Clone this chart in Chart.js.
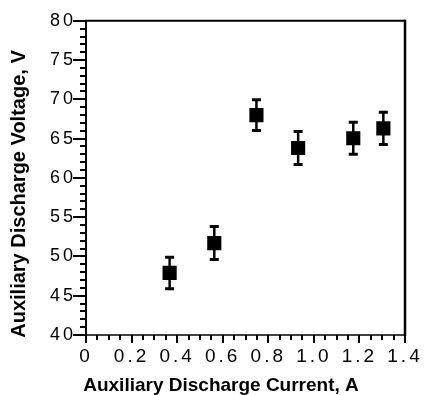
<!DOCTYPE html>
<html lang="en">
<head>
    <meta charset="UTF-8">
    <title>Auxiliary Discharge Voltage vs Current</title>
    <style>
        body {
            margin: 0;
            background-color: #fff;
        }
        canvas {
            display: block;
        }
    </style>
</head>
<body>
    <canvas id="chart" width="430" height="395"></canvas>

    <script src="https://cdn.jsdelivr.net/npm/chart.js"></script>

    <script>
      // measured points: current (A), voltage (V), +/- spread (V)
      const currents = [0.367, 0.563, 0.748, 0.931, 1.173, 1.305];
      const voltages = [47.9, 51.7, 68.0, 63.8, 65.05, 66.3];
      const voltageErrors = [2.0, 2.1, 1.95, 2.1, 2.05, 2.05];

      const xTicks = [0, 0.2, 0.4, 0.6, 0.8, 1, 1.2, 1.4];
      const yTicks = [40, 45, 50, 55, 60, 65, 70, 75, 80];

      const xTitle = 'Auxiliary Discharge Current, A';
      const yTitle = 'Auxiliary Discharge Voltage, V';

      const tickFont = '"Liberation Sans", Arial, sans-serif';

      // frame, tick marks, error bars and axis titles
      const decorations = {
          id: 'decorations',
          beforeDraw(chart) {
              chart.ctx.letterSpacing = '3px';
          },
          beforeDatasetsDraw(chart) {
              const { ctx, chartArea: a, scales: { x, y } } = chart;
              ctx.save();
              ctx.letterSpacing = '0px';
              ctx.strokeStyle = '#000';

              // error bars
              currents.forEach((c, i) => {
                  const px = x.getPixelForValue(c);
                  const top = y.getPixelForValue(voltages[i] + voltageErrors[i]);
                  const bot = y.getPixelForValue(voltages[i] - voltageErrors[i]);
                  ctx.lineWidth = 2.5;
                  ctx.beginPath();
                  ctx.moveTo(px, top);
                  ctx.lineTo(px, bot);
                  ctx.stroke();
                  ctx.lineWidth = 3;
                  ctx.beginPath();
                  ctx.moveTo(px - 4.5, top);
                  ctx.lineTo(px + 4.5, top);
                  ctx.moveTo(px - 4.5, bot);
                  ctx.lineTo(px + 4.5, bot);
                  ctx.stroke();
              });

              // box around the plot
              ctx.lineWidth = 2;
              ctx.beginPath();
              ctx.moveTo(a.left, a.top);
              ctx.lineTo(a.right, a.top);
              ctx.moveTo(a.left, a.top - 1);
              ctx.lineTo(a.left, a.bottom + 1);
              ctx.stroke();
              ctx.lineWidth = 2.5;
              ctx.beginPath();
              ctx.moveTo(a.right, a.top - 1);
              ctx.lineTo(a.right, a.bottom + 1);
              ctx.stroke();
              ctx.lineWidth = 1.5;
              ctx.beginPath();
              ctx.moveTo(a.left, a.bottom);
              ctx.lineTo(a.right, a.bottom);
              ctx.stroke();

              // y ticks: every 1 V, longer at labelled values
              ctx.lineWidth = 2;
              ctx.beginPath();
              for (let v = 40; v <= 80; v++) {
                  const py = Math.round(y.getPixelForValue(v));
                  const len = yTicks.includes(v) ? 13 : 6;
                  ctx.moveTo(a.left - len, py);
                  ctx.lineTo(a.left, py);
              }
              ctx.stroke();

              // x ticks: every 0.05 A, longer at labelled values
              ctx.beginPath();
              for (let i = 0; i <= 28; i++) {
                  const px = Math.round(x.getPixelForValue(i / 20));
                  const len = i % 4 === 0 ? 8 : 5;
                  ctx.moveTo(px, a.bottom);
                  ctx.lineTo(px, a.bottom + len);
              }
              ctx.stroke();
              ctx.restore();
          },
          afterDraw(chart) {
              const ctx = chart.ctx;
              ctx.save();
              ctx.letterSpacing = '0px';
              ctx.fillStyle = '#000';
              ctx.textBaseline = 'alphabetic';
              ctx.textAlign = 'center';

              ctx.font = 'bold 19px "Liberation Sans", Arial, sans-serif';
              ctx.fillText(xTitle, 221, 391);

              ctx.translate(25, 194);
              ctx.rotate(-Math.PI / 2);
              ctx.font = 'bold 20px "Liberation Sans", Arial, sans-serif';
              ctx.fillText(yTitle, 0, 0);
              ctx.restore();
          }
      };

      new Chart(document.getElementById('chart').getContext('2d'), {
          type: 'scatter',
          data: {
              datasets: [{
                  data: currents.map((c, i) => ({ x: c, y: voltages[i] })),
                  pointStyle: 'rect',
                  pointRadius: 10,
                  pointHoverRadius: 10,
                  backgroundColor: '#000',
                  borderWidth: 0
              }]
          },
          options: {
              responsive: false,
              animation: false,
              devicePixelRatio: 1,
              layout: {
                  padding: { top: 18, right: 25, left: 0, bottom: 0 }
              },
              plugins: {
                  legend: { display: false },
                  tooltip: { enabled: false }
              },
              scales: {
                  x: {
                      type: 'linear',
                      min: 0,
                      max: 1.4,
                      grid: { display: false, drawTicks: false },
                      border: { display: false },
                      afterBuildTicks: s => { s.ticks = xTicks.map(v => ({ value: v })); },
                      afterFit: s => { s.height = 60; },
                      ticks: {
                          z: 1,
                          color: '#000',
                          padding: 10,
                          autoSkip: false,
                          maxRotation: 0,
                          font: { family: tickFont, size: 19 }
                      }
                  },
                  y: {
                      min: 40,
                      max: 80,
                      grid: { display: false, drawTicks: false },
                      border: { display: false },
                      afterBuildTicks: s => { s.ticks = yTicks.map(v => ({ value: v })); },
                      afterFit: s => { s.width = 86; },
                      ticks: {
                          z: 1,
                          color: '#000',
                          padding: 10,
                          font: { family: tickFont, size: 18 }
                      }
                  }
              }
          },
          plugins: [decorations]
      });
    </script>
</body>
</html>
